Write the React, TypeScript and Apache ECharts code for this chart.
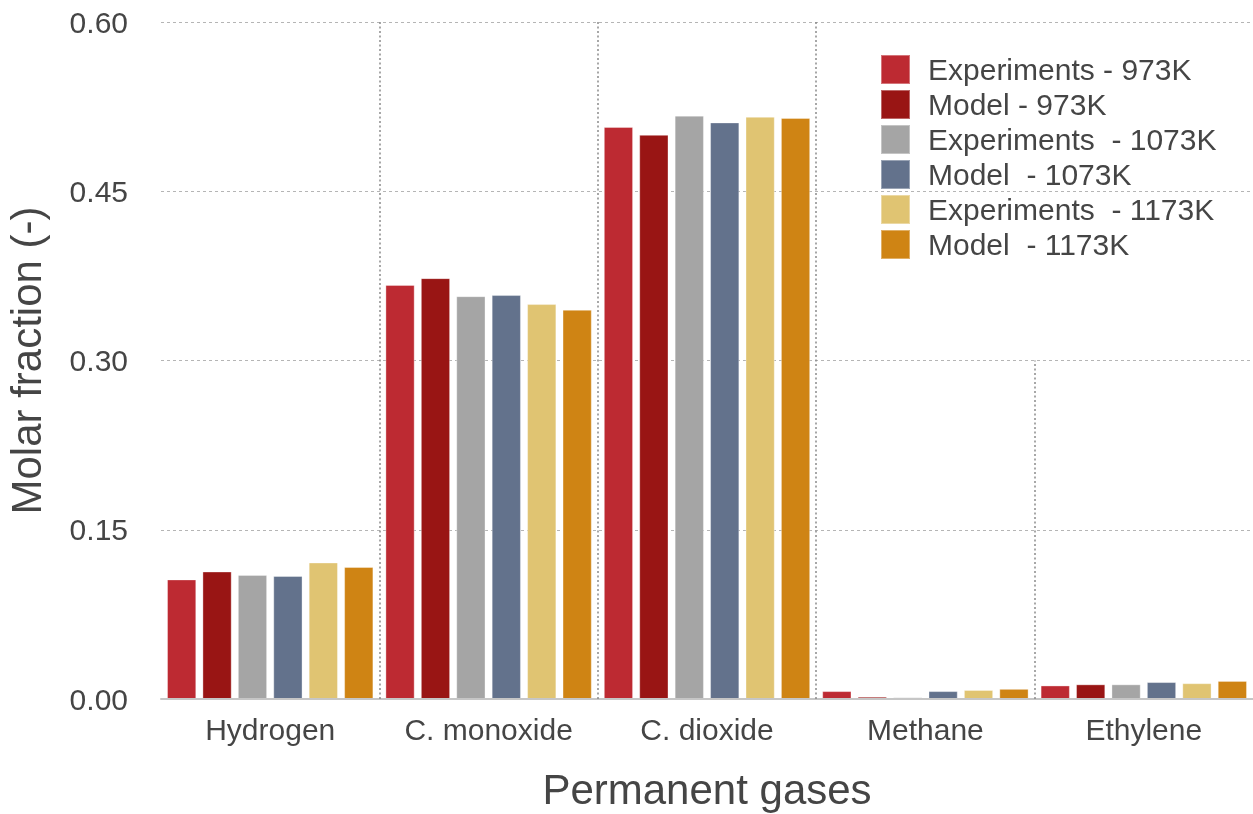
import React, { useEffect, useRef } from "react";
import * as echarts from "echarts";

const categories = ["Hydrogen", "C. monoxide", "C. dioxide", "Methane", "Ethylene"];
const seriesNames = [
  "Experiments - 973K",
  "Model - 973K",
  "Experiments  - 1073K",
  "Model  - 1073K",
  "Experiments  - 1173K",
  "Model  - 1173K",
];
const colors = ["#BD2A32", "#991514", "#A5A5A5", "#63728C", "#E0C472", "#CF8414"];

const exp973 = [0.106, 0.367, 0.507, 0.007, 0.012];
const model973 = [0.113, 0.373, 0.5, 0.002, 0.013];
const exp1073 = [0.11, 0.357, 0.517, 0.0015, 0.013];
const model1073 = [0.109, 0.358, 0.511, 0.007, 0.015];
const exp1173 = [0.121, 0.35, 0.516, 0.008, 0.014];
const model1173 = [0.117, 0.345, 0.515, 0.009, 0.016];
const seriesValues = [exp973, model973, exp1073, model1073, exp1173, model1173];

const yTicks = { min: 0, max: 0.6, interval: 0.15 };
// category boundaries (in category units) and the height each separator line reaches
const boundaryPositions = [1, 2, 3, 4];
const boundaryTops = [0.6, 0.6, 0.6, 0.3];

const FONT = "'Liberation Sans', Arial, Helvetica, sans-serif";
const TEXT = "#454545";

export default function App() {
  const ref = useRef<HTMLDivElement>(null);
  useEffect(() => {
    document.body.style.margin = "0";
    const chart = echarts.init(ref.current!, null, { renderer: "svg" });
    const bars = seriesValues.map((vals, i) => ({
      name: seriesNames[i],
      type: "bar",
      data: vals,
      xAxisIndex: 0,
      yAxisIndex: 0,
      itemStyle: { color: colors[i], borderColor: "rgba(255,255,255,0.35)", borderWidth: 1 },
      barGap: "21%",
      barCategoryGap: "5.5%",
      z: 3,
    }));
    chart.setOption({
      animation: false,
      textStyle: { fontFamily: FONT },
      grid: { left: 161, right: 0, top: 22, bottom: 115, outerBoundsMode: "none", containLabel: false },
      legend: {
        orient: "vertical",
        left: 880,
        top: 54,
        padding: 0,
        itemWidth: 29,
        itemHeight: 29,
        itemGap: 4,
        icon: "rect",
        data: seriesNames,
        textStyle: {
          fontSize: 30,
          lineHeight: 29,
          color: TEXT,
          fontFamily: FONT,
          padding: [0, 0, 0, 13],
        },
      },
      xAxis: [
        {
          type: "category",
          data: categories,
          axisTick: { show: false },
          axisLine: { lineStyle: { color: "#c6c6c6", width: 2 } },
          axisLabel: { fontSize: 30, color: TEXT, margin: 15, fontFamily: FONT, interval: 0, hideOverlap: false },
          splitLine: { show: false },
          name: "Permanent gases",
          nameLocation: "middle",
          nameGap: 69,
          nameTextStyle: { fontSize: 42, color: TEXT, fontFamily: FONT },
          z: 4,
        },
        {
          type: "value",
          min: 0,
          max: categories.length,
          show: false,
          splitLine: { show: false },
        },
      ],
      yAxis: {
        type: "value",
        min: yTicks.min,
        max: yTicks.max,
        interval: yTicks.interval,
        axisLine: { show: false },
        axisTick: { show: false },
        axisLabel: {
          fontSize: 30,
          color: TEXT,
          margin: 33,
          fontFamily: FONT,
          formatter: (v: number) => v.toFixed(2),
        },
        splitLine: { lineStyle: { color: "#b5b5b5", type: [3, 3], width: 1 } },
        name: "Molar fraction (-)",
        nameLocation: "middle",
        nameGap: 114,
        nameTextStyle: { fontSize: 42, color: TEXT, fontFamily: FONT },
      },
      series: [
        ...bars,
        {
          type: "scatter",
          xAxisIndex: 1,
          yAxisIndex: 0,
          data: [],
          silent: true,
          z: 1,
          markLine: {
            silent: true,
            symbol: "none",
            label: { show: false },
            lineStyle: { color: "#8a8a8a", type: [2, 2.5], width: 1.5 },
            data: boundaryPositions.map((b, i) => [
              { coord: [b, 0] },
              { coord: [b, boundaryTops[i]] },
            ]),
          },
        },
      ],
    });
    return () => chart.dispose();
  }, []);
  return <div ref={ref} style={{ position: "fixed", left: 0, top: 0, width: 1253, height: 814 }} />;
}
